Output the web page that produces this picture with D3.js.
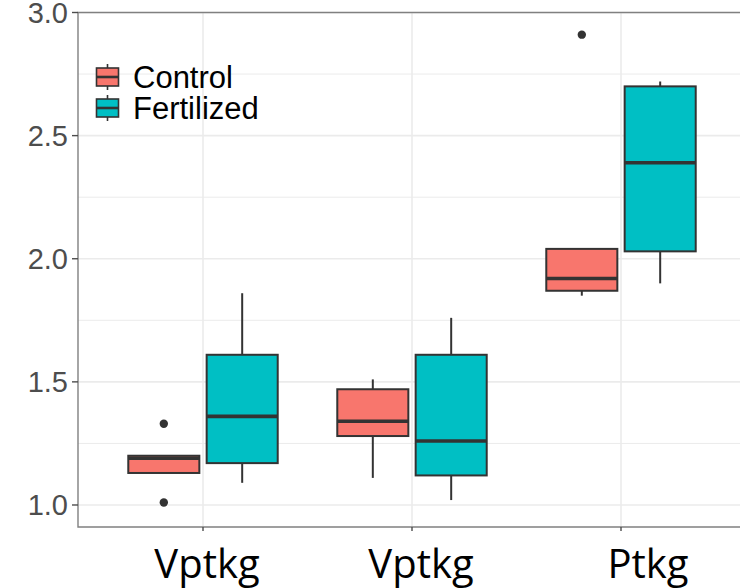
<!DOCTYPE html>
<html>
<head>
<meta charset="utf-8">
<script src="https://cdn.jsdelivr.net/npm/d3@7"></script>
<style>
  body { margin: 0; background: #fff; }
  svg { display: block; }
</style>
</head>
<body>
<script>
// categories and series (five-number summaries: lower whisker, Q1, median, Q3, upper whisker)
const groups = ["Vptkg", "Vptkg", "Ptkg"];
const treatments = ["Control", "Fertilized"];
const colors = ["#F8766D", "#00BFC4"];

const controlBox = [
  [1.13, 1.13, 1.19, 1.20, 1.20],
  [1.11, 1.28, 1.34, 1.47, 1.51],
  [1.85, 1.87, 1.92, 2.04, 2.04]
];
const fertilizedBox = [
  [1.09, 1.17, 1.36, 1.61, 1.86],
  [1.02, 1.12, 1.26, 1.61, 1.76],
  [1.90, 2.03, 2.39, 2.70, 2.72]
];
const controlOutliers = [[1.33, 1.01], [], [2.91]];
const fertilizedOutliers = [[], [], []];

const yTicks = [1.0, 1.5, 2.0, 2.5, 3.0];
const yMinor = [1.25, 1.75, 2.25, 2.75];

// layout
const width = 740, height = 588;
const panel = { left: 78, top: 12.5, right: 760, bottom: 527 };
const dodge = 0.1875, boxW = 0.34;
const labelShift = [4, 9, 27];

const svg = d3.select("body").append("svg")
  .attr("width", width)
  .attr("height", height);

const x = d3.scaleLinear()
  .domain([0, 2])
  .range([203, 621]);
const y = d3.scaleLinear()
  .domain([0.9106, 3.0])
  .range([panel.bottom, panel.top]);

const unit = x(1) - x(0);

svg.append("clipPath").attr("id", "clip")
  .append("rect")
  .attr("x", panel.left).attr("y", panel.top)
  .attr("width", panel.right - panel.left)
  .attr("height", panel.bottom - panel.top);

const plot = svg.append("g").attr("clip-path", "url(#clip)");

// grid
plot.selectAll(".minor").data(yMinor).join("line")
  .attr("x1", panel.left).attr("x2", panel.right)
  .attr("y1", d => y(d)).attr("y2", d => y(d))
  .attr("stroke", "#ebebeb").attr("stroke-width", 1);
plot.selectAll(".major").data(yTicks).join("line")
  .attr("x1", panel.left).attr("x2", panel.right)
  .attr("y1", d => y(d)).attr("y2", d => y(d))
  .attr("stroke", "#ebebeb").attr("stroke-width", 1.6);
plot.selectAll(".vgrid").data(groups).join("line")
  .attr("x1", (d, i) => x(i)).attr("x2", (d, i) => x(i))
  .attr("y1", panel.top).attr("y2", panel.bottom)
  .attr("stroke", "#ebebeb").attr("stroke-width", 1.6);

// boxes
const series = [
  { name: treatments[0], color: colors[0], boxes: controlBox, out: controlOutliers, off: -dodge },
  { name: treatments[1], color: colors[1], boxes: fertilizedBox, out: fertilizedOutliers, off: dodge }
];

series.forEach(s => {
  const g = plot.append("g");
  s.boxes.forEach((b, i) => {
    const cx = x(i + s.off);
    const hw = boxW * unit / 2;
    g.append("line")
      .attr("x1", cx).attr("x2", cx)
      .attr("y1", y(b[4])).attr("y2", y(b[3]))
      .attr("stroke", "#333").attr("stroke-width", 2);
    g.append("line")
      .attr("x1", cx).attr("x2", cx)
      .attr("y1", y(b[1])).attr("y2", y(b[0]))
      .attr("stroke", "#333").attr("stroke-width", 2);
    g.append("rect")
      .attr("x", cx - hw).attr("width", hw * 2)
      .attr("y", y(b[3])).attr("height", y(b[1]) - y(b[3]))
      .attr("fill", s.color).attr("stroke", "#333").attr("stroke-width", 2);
    g.append("line")
      .attr("x1", cx - hw).attr("x2", cx + hw)
      .attr("y1", y(b[2])).attr("y2", y(b[2]))
      .attr("stroke", "#333").attr("stroke-width", 3.6);
    s.out[i].forEach(v => {
      g.append("circle")
        .attr("cx", cx).attr("cy", y(v)).attr("r", 4.2)
        .attr("fill", "#333");
    });
  });
});

// panel border
svg.append("path")
  .attr("d", `M${panel.right},${panel.top}H${panel.left}V${panel.bottom}H${panel.right}`)
  .attr("fill", "none").attr("stroke", "#808080").attr("stroke-width", 1.4);

// y axis
const yAxis = svg.append("g");
yAxis.selectAll("line").data(yTicks).join("line")
  .attr("x1", panel.left - 6).attr("x2", panel.left)
  .attr("y1", d => y(d)).attr("y2", d => y(d))
  .attr("stroke", "#4d4d4d").attr("stroke-width", 1.4);
yAxis.selectAll("text").data(yTicks).join("text")
  .attr("x", panel.left - 10)
  .attr("y", d => y(d))
  .attr("dy", "0.36em")
  .attr("text-anchor", "end")
  .attr("font-family", "'Liberation Sans', Arial, sans-serif")
  .attr("font-size", 29)
  .attr("fill", "#4d4d4d")
  .text(d => d.toFixed(1));

// x axis
const xAxis = svg.append("g");
xAxis.selectAll("line").data(groups).join("line")
  .attr("x1", (d, i) => x(i)).attr("x2", (d, i) => x(i))
  .attr("y1", panel.bottom).attr("y2", panel.bottom + 4)
  .attr("stroke", "#4d4d4d").attr("stroke-width", 1.4);
xAxis.selectAll("text").data(groups).join("text")
  .attr("x", (d, i) => x(i) + labelShift[i])
  .attr("y", 578)
  .attr("text-anchor", "middle")
  .attr("font-family", "'Open Sans', 'Noto Sans', sans-serif")
  .attr("font-size", 40)
  .attr("fill", "#000")
  .text(d => d);

// legend
const legend = svg.append("g").attr("transform", "translate(96,63)");
treatments.forEach((t, i) => {
  const g = legend.append("g").attr("transform", `translate(0,${i * 31})`);
  g.append("line")
    .attr("x1", 11.5).attr("x2", 11.5).attr("y1", 1).attr("y2", 27)
    .attr("stroke", "#333").attr("stroke-width", 1.6);
  g.append("rect")
    .attr("x", 0.5).attr("y", 5).attr("width", 22).attr("height", 18)
    .attr("fill", colors[i]).attr("stroke", "#333").attr("stroke-width", 1.6);
  g.append("line")
    .attr("x1", 0.5).attr("x2", 22.5).attr("y1", 14).attr("y2", 14)
    .attr("stroke", "#333").attr("stroke-width", 2.6);
  g.append("text")
    .attr("x", 37).attr("y", 25)
    .attr("font-family", "'Liberation Sans', Arial, sans-serif")
    .attr("font-size", 31)
    .attr("fill", "#000")
    .text(t);
});
</script>
</body>
</html>
